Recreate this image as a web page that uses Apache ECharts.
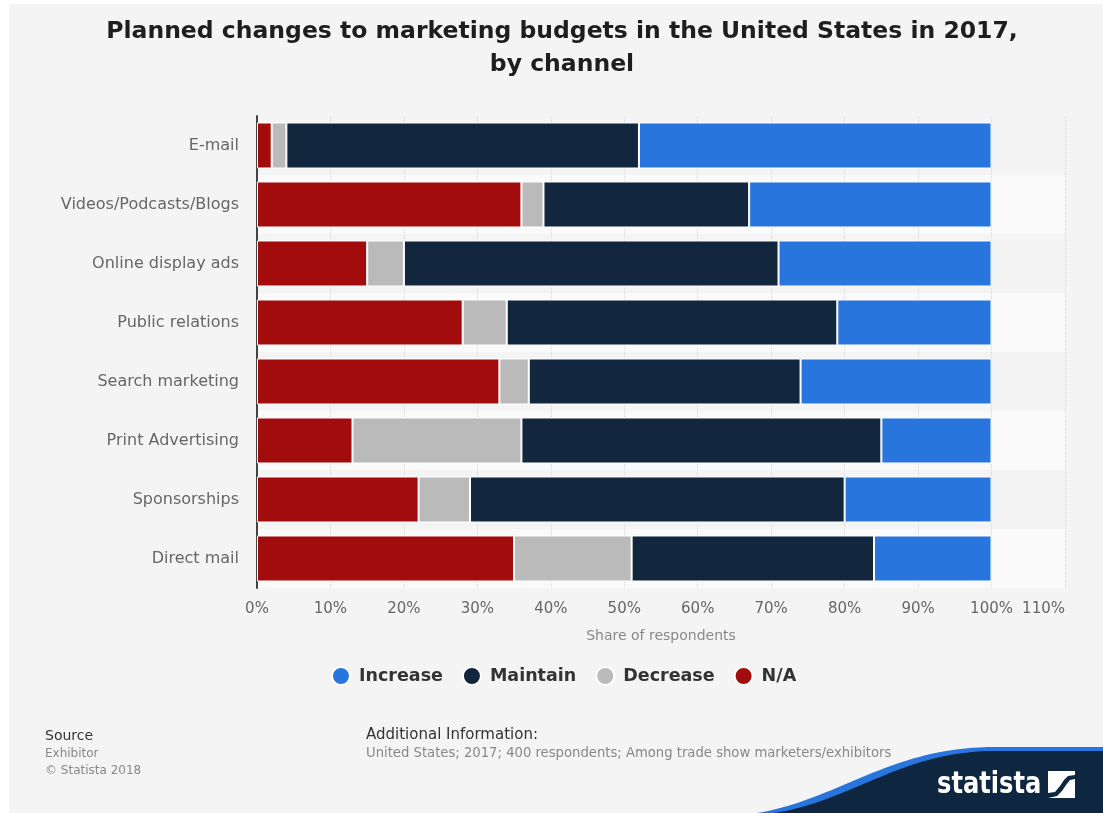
<!DOCTYPE html>
<html>
<head>
<meta charset="utf-8">
<script src="https://cdn.jsdelivr.net/npm/echarts@6/dist/echarts.min.js"></script>
<style>
  html, body { margin: 0; padding: 0; background: #ffffff; }
  #panel { position: absolute; left: 9px; top: 4px; width: 1094px; height: 809px; background: #f4f4f4; }
  #chart { position: absolute; left: 0; top: 0; width: 1103px; height: 813px; }
</style>
</head>
<body>
<div id="panel"></div>
<div id="chart"></div>
<script>
// Channels, top to bottom
const channels = [
  'E-mail', 'Videos/Podcasts/Blogs', 'Online display ads', 'Public relations',
  'Search marketing', 'Print Advertising', 'Sponsorships', 'Direct mail'
];
// Share of respondents (%) per planned change
const naValues       = [2, 36, 15, 28, 33, 13, 22, 35];
const decreaseValues = [2, 3, 5, 6, 4, 23, 7, 16];
const maintainValues = [48, 28, 51, 45, 37, 49, 51, 33];
const increaseValues = [48, 33, 29, 21, 26, 15, 20, 16];
const legendOrder = ['Increase', 'Maintain', 'Decrease', 'N/A'];

const FONT = '"DejaVu Sans", sans-serif';

function barSeries(name, values, color) {
  return {
    name: name,
    type: 'bar',
    stack: 'total',
    data: values,
    barWidth: '78%',
    itemStyle: { color: color, borderColor: '#ffffff', borderWidth: 1 },
    emphasis: { disabled: true }
  };
}

// Outline of the corner wave: a cubic curve rising from the bottom edge, then flat to the right edge
function wavePoints(x0, y0, c1, c2, x1, y1) {
  const pts = [];
  for (let i = 0; i <= 40; i++) {
    const t = i / 40, u = 1 - t;
    pts.push([
      u * u * u * x0 + 3 * u * u * t * c1[0] + 3 * u * t * t * c2[0] + t * t * t * x1,
      u * u * u * y0 + 3 * u * u * t * c1[1] + 3 * u * t * t * c2[1] + t * t * t * y1
    ]);
  }
  pts.push([1103, y1], [1103, 813]);
  return pts;
}

const chart = echarts.init(document.getElementById('chart'), null, { renderer: 'canvas' });

chart.setOption({
  backgroundColor: 'transparent',
  animation: false,
  textStyle: { fontFamily: FONT },
  title: {
    text: 'Planned changes to marketing budgets in the United States in 2017,\nby channel',
    left: 557,
    textAlign: 'center',
    top: 10,
    textStyle: { fontFamily: FONT, fontSize: 23.5, fontWeight: 'bold', color: '#1e1e1e', lineHeight: 33 }
  },
  legend: {
    data: legendOrder,
    left: 326,
    top: 661,
    icon: 'circle',
    itemWidth: 18,
    itemHeight: 18,
    itemGap: 19,
    textStyle: { fontFamily: FONT, fontSize: 17.5, fontWeight: 'bold', color: '#333333', padding: [0, 0, 0, 4] }
  },
  grid: { left: 257, right: 38, top: 116, bottom: 225 },
  xAxis: {
    type: 'value',
    min: 0,
    max: 110,
    interval: 10,
    name: 'Share of respondents',
    nameLocation: 'middle',
    nameGap: 41,
    nameTextStyle: { fontFamily: FONT, fontSize: 14, color: '#888888' },
    axisLine: { show: false },
    axisTick: { show: false },
    axisLabel: { formatter: '{value}%', color: '#666666', fontSize: 15, margin: 14, fontFamily: FONT, alignMaxLabel: 'right' },
    splitLine: { show: true, lineStyle: { color: '#d6d6d6', type: 'dotted', width: 1 } }
  },
  yAxis: {
    type: 'category',
    inverse: true,
    data: channels,
    axisLine: { show: true, lineStyle: { color: '#444444', width: 2 } },
    axisTick: { show: false },
    axisLabel: { color: '#666666', fontSize: 16, margin: 18, fontFamily: FONT },
    splitArea: { show: true, areaStyle: { color: ['rgba(0,0,0,0)', '#fafafa'] } }
  },
  series: [
    barSeries('N/A', naValues, '#a30c0c'),
    barSeries('Decrease', decreaseValues, '#bababa'),
    barSeries('Maintain', maintainValues, '#12263d'),
    barSeries('Increase', increaseValues, '#2876dd')
  ],
  graphic: [
    { type: 'text', x: 45, y: 729, style: { text: 'Source', fontFamily: FONT, fontSize: 14, fill: '#333333' } },
    { type: 'text', x: 45, y: 748, style: { text: 'Exhibitor', fontFamily: FONT, fontSize: 12, fill: '#888888' } },
    { type: 'text', x: 45, y: 765, style: { text: '© Statista 2018', fontFamily: FONT, fontSize: 12, fill: '#888888' } },
    { type: 'text', x: 366, y: 728, style: { text: 'Additional Information:', fontFamily: FONT, fontSize: 15, fill: '#333333' } },
    { type: 'text', x: 366, y: 747, style: { text: 'United States; 2017; 400 respondents; Among trade show marketers/exhibitors', fontFamily: FONT, fontSize: 13.2, fill: '#888888' } },
    // brand wave in the lower right corner
    { type: 'polygon', z: 50, shape: { points: wavePoints(757, 813, [840, 799], [890, 747], 995, 747) }, style: { fill: '#2876dd' } },
    { type: 'polygon', z: 51, shape: { points: wavePoints(774, 813, [852, 801], [902, 751], 995, 751) }, style: { fill: '#0f2640' } },
    { type: 'text', z: 52, x: 937, y: 769, scaleX: 0.78, style: { text: 'statista', fontFamily: FONT, fontSize: 31, fontWeight: 'bold', fill: '#ffffff' } },
    { type: 'rect', z: 52, shape: { x: 1048, y: 771, width: 27, height: 27 }, style: { fill: '#ffffff' } },
    { type: 'polygon', z: 53, shape: { points: [[1048, 793], [1055, 792], [1060, 786], [1064, 780], [1068, 776], [1075, 775], [1075, 779], [1070, 780], [1066, 785], [1062, 791], [1057, 796], [1048, 798]] }, style: { fill: '#0f2640' } }
  ]
});
</script>
</body>
</html>
